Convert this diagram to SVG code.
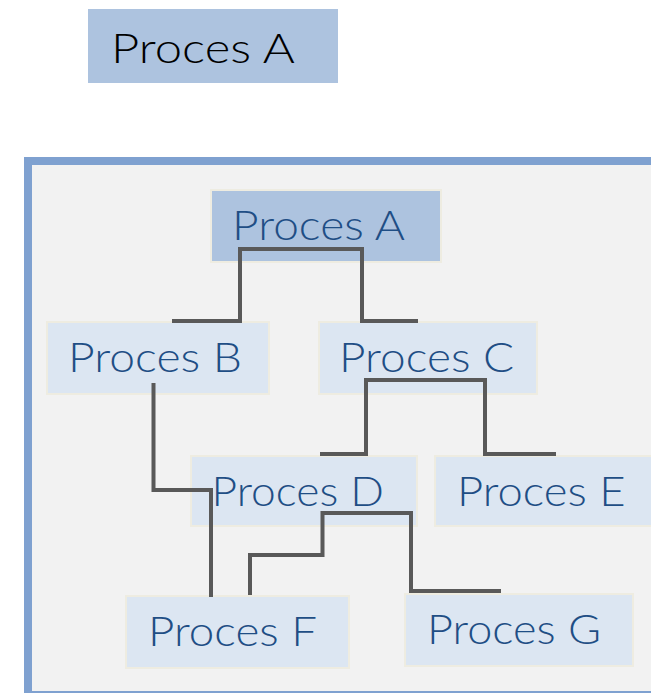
<svg xmlns="http://www.w3.org/2000/svg" width="651" height="693" viewBox="0 0 651 693">
<style>
.lbl{font-family:Lato,"Open Sans","Liberation Sans",sans-serif;font-weight:300;font-size:41px;fill:#1f4e85}
.box{fill:#dce6f2;stroke:#eeece1;stroke-width:2}
.boxA{fill:#adc3df;stroke:#eeece1;stroke-width:2}
.conn{fill:none;stroke:#595959;stroke-width:4;stroke-linejoin:miter;stroke-linecap:butt}
</style>
<rect width="651" height="693" fill="#ffffff"/>
<g id="title">
<rect x="88" y="9" width="250" height="74" fill="#adc3df"/>
<text x="111" y="63" class="lbl" style="fill:#000000;font-size:42px" textLength="184" lengthAdjust="spacingAndGlyphs">Proces A</text>
</g>
<g id="frame">
<rect x="28" y="161" width="700" height="534" fill="#f2f2f2" stroke="#7fa1d0" stroke-width="8"/>
</g>
<g id="nodeA">
<rect class="boxA" x="211" y="190" width="230" height="72"/>
<text x="232" y="240" class="lbl" textLength="173" lengthAdjust="spacingAndGlyphs">Proces A</text>
</g>
<g id="nodeB">
<rect class="box" x="47" y="322" width="222" height="72"/>
<text x="68" y="372" class="lbl" textLength="174" lengthAdjust="spacingAndGlyphs">Proces B</text>
</g>
<g id="nodeC">
<rect class="box" x="319" y="322" width="218" height="72"/>
<text x="339" y="372" class="lbl" textLength="175" lengthAdjust="spacingAndGlyphs">Proces C</text>
</g>
<g id="nodeD">
<rect class="box" x="191" y="456" width="226" height="70"/>
<text x="211.5" y="505.5" class="lbl" textLength="172.5" lengthAdjust="spacingAndGlyphs">Proces D</text>
</g>
<g id="nodeE">
<rect class="box" x="435" y="456" width="230" height="70"/>
<text x="457" y="505.5" class="lbl" textLength="168.5" lengthAdjust="spacingAndGlyphs">Proces E</text>
</g>
<g id="nodeF">
<rect class="box" x="126" y="596" width="223" height="72"/>
<text x="148" y="646" class="lbl" textLength="169" lengthAdjust="spacingAndGlyphs">Proces F</text>
</g>
<g id="nodeG">
<rect class="box" x="405" y="594" width="228" height="72"/>
<text x="427" y="644" class="lbl" textLength="174" lengthAdjust="spacingAndGlyphs">Proces G</text>
</g>
<g id="connectors">
<polyline class="conn" points="172,321 240,321 240,249 326,249"/>
<polyline class="conn" points="326,249 362,249 362,321 418,321"/>
<polyline class="conn" points="320,454 366,454 366,380 414,380"/>
<polyline class="conn" points="414,380 485,380 485,454 556,454"/>
<polyline class="conn" points="153.5,383 153.5,490 211,490 211,597"/>
<polyline class="conn" points="250,595 250,555 322.5,555 322.5,513 411,513 411,591 501,591"/>
</g>
</svg>
